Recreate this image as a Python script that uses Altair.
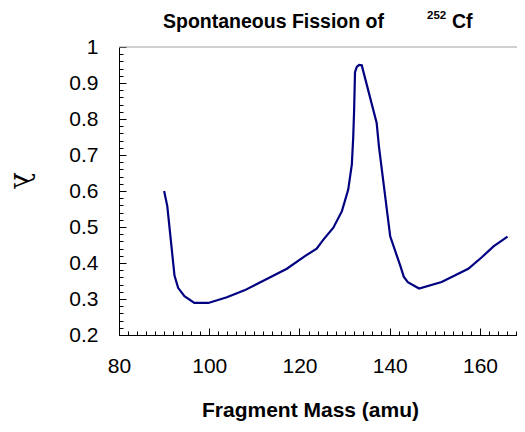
import altair as alt
import pandas as pd

# Fragment mass (amu) and lambda values
mass = [90.0, 90.7, 92.3, 93.1, 94.5, 96.7, 99.8, 103.9, 107.8, 117.2, 121.2,
        123.8, 125.3, 127.5, 129.4, 130.8, 131.6, 131.9, 132.1, 132.3, 132.7,
        133.2, 133.8, 137.1, 137.6, 140.1, 142.4, 143.1, 144.0, 146.5, 151.5,
        157.4, 160.4, 163.0, 166.1]
lam = [0.600, 0.558, 0.365, 0.331, 0.308, 0.289, 0.289, 0.305, 0.324, 0.384, 0.419,
       0.440, 0.465, 0.498, 0.544, 0.604, 0.674, 0.748, 0.822, 0.930, 0.945,
       0.950, 0.949, 0.789, 0.724, 0.474, 0.390, 0.362, 0.347, 0.329, 0.347,
       0.384, 0.416, 0.446, 0.473]

x_labels = [80, 100, 120, 140, 160]
y_labels = [0.2, 0.3, 0.4, 0.5, 0.6, 0.7, 0.8, 0.9, 1.0]
x_ticks = [80 + 2 * i for i in range(45)]
y_ticks = [round(0.2 + 0.02 * i, 2) for i in range(41)]

title_main = "Spontaneous Fission of"
title_sup = "252"
title_elem = "Cf"
x_title = "Fragment Mass (amu)"
y_title = "λ"

df = pd.DataFrame({"m": mass, "lam": lam, "i": list(range(len(mass)))})

W, H = 398, 288
FONT = "Liberation Sans"

xs = alt.Scale(domain=[80, 168.2], nice=False, zero=False)
ys = alt.Scale(domain=[0.2, 1.0], nice=False, zero=False)

line_main = alt.Chart(df).mark_line(color="#000080", strokeWidth=2.2).encode(
    x=alt.X("m:Q", scale=xs, axis=alt.Axis(
        values=x_labels, ticks=False, grid=False, labelFlush=False,
        domainColor="black", domainWidth=1,
        labelFont=FONT, labelFontSize=21, labelColor="black",
        labelBaseline="middle", labelPadding=31,
        title=x_title, titleFont=FONT, titleFontSize=21, titleFontWeight="bold",
        titleColor="black", titleX=191, titleY=81, titleBaseline="alphabetic",
        titleAlign="center")),
    y=alt.Y("lam:Q", scale=ys, axis=alt.Axis(
        values=y_labels, format="~g", ticks=False, grid=False, labelFlush=False,
        domainColor="black", domainWidth=1,
        labelFont=FONT, labelFontSize=21, labelColor="black", labelPadding=21,
        title=y_title, titleFont="DejaVu Serif", titleFontSize=28,
        titleFontWeight="normal", titleColor="black", titleAngle=90,
        titleX=-98, titleY=133, titleAlign="center", titleBaseline="middle")),
    order="i:Q",
)

tick_chart = alt.Chart(df).mark_line(strokeOpacity=0).encode(
    x=alt.X("m:Q", scale=xs, axis=alt.Axis(
        orient="top", offset=-H, values=x_ticks, labels=False, domain=False,
        grid=False, title=None, tickColor="black", tickWidth=1,
        tickSize={"condition": {"test": "datum.value % 20 === 0", "value": 7},
                  "value": 4})),
    y=alt.Y("lam:Q", scale=ys, axis=alt.Axis(
        orient="right", offset=-W, values=y_ticks, labels=False, domain=False,
        grid=False, title=None, tickColor="black", tickWidth=1,
        tickSize={"condition": {"test": "abs(datum.value*10 - round(datum.value*10)) < 1e-6",
                                "value": 7}, "value": 4})),
    order="i:Q",
)

top_border = alt.Chart(pd.DataFrame({"t": [title_main]})).mark_rule(
    color="#a0a0a0", strokeWidth=1).encode(
    x=alt.value(0), x2=alt.value(W), y=alt.value(0))

t1 = alt.Chart(pd.DataFrame({"t": [title_main]})).mark_text(
    font=FONT, fontSize=19.5, fontWeight="bold", align="left",
    baseline="alphabetic", color="black").encode(
    text="t:N", x=alt.value(44), y=alt.value(-19))
t2 = alt.Chart(pd.DataFrame({"t": [title_sup]})).mark_text(
    font=FONT, fontSize=11.5, fontWeight="bold", align="left",
    baseline="alphabetic", color="black").encode(
    text="t:N", x=alt.value(308), y=alt.value(-28.5))
t3 = alt.Chart(pd.DataFrame({"t": [title_elem]})).mark_text(
    font=FONT, fontSize=19.5, fontWeight="bold", align="left",
    baseline="alphabetic", color="black").encode(
    text="t:N", x=alt.value(333), y=alt.value(-19))

chart = alt.layer(top_border, tick_chart, line_main, t1, t2, t3).resolve_axis(
    x="independent", y="independent"
).properties(
    width=W, height=H,
    autosize=alt.AutoSizeParams(type="none"),
    padding={"left": 111, "top": 39, "right": 0, "bottom": 89},
).configure_view(stroke="transparent")

chart.save("out.html", embed_options={"renderer": "svg", "actions": False})
